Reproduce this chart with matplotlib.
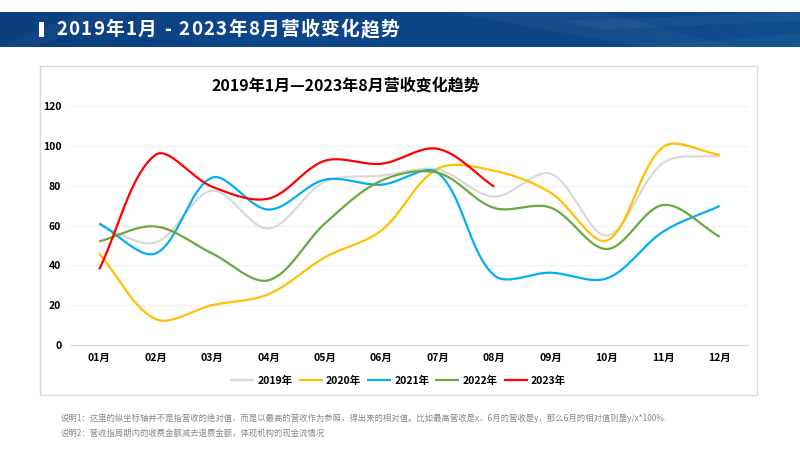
import numpy as np
import matplotlib
matplotlib.use('Agg')
import matplotlib.pyplot as plt
from matplotlib.patches import Rectangle, Polygon
from matplotlib.colors import LinearSegmentedColormap

plt.rcParams['font.family'] = ['Noto Sans CJK SC', 'DejaVu Sans']

### DATA

months = ['01月', '02月', '03月', '04月', '05月', '06月',
          '07月', '08月', '09月', '10月', '11月', '12月']
y2019 = [60, 51.5, 77.5, 58.5, 82, 85, 88, 74.5, 86, 55, 91.5, 95]
y2020 = [46, 13, 20, 25.5, 44, 57.5, 88.5, 87.5, 76.5, 52.5, 99.5, 95.5]
y2021 = [61, 46, 84, 68, 83, 80.5, 86.5, 35, 36.3, 33.5, 57, 69.8]
y2022 = [52, 59.5, 46, 32.5, 61, 82.5, 86.5, 68.8, 69, 48.2, 70.3, 54.3]
y2023 = [38, 95.5, 79.5, 73.5, 92.5, 91, 98.5, 79.5]

series = [('2019年', y2019, '#d9d9d9'),
          ('2020年', y2020, '#ffc000'),
          ('2021年', y2021, '#00b0f0'),
          ('2022年', y2022, '#6aa840'),
          ('2023年', y2023, '#ff0000')]

header_title = '2019年1月 - 2023年8月营收变化趋势'
chart_title = '2019年1月—2023年8月营收变化趋势'
note1 = '说明1：这里的纵坐标轴并不是指营收的绝对值，而是以最高的营收作为参照，得出来的相对值。比如最高营收是x，6月的营收是y，那么6月的相对值则是y/x*100%.'
note2 = '说明2：营收指周期内的收费金额减去退费金额，体现机构的现金流情况'

W, H = 800, 449
XPX = 677 / 12.0   # pixels per category
YPX = 239 / 120.0  # pixels per value unit


def smooth(xs, ys, n=40):
    # excel-like smoothed line: bezier handles scaled by neighbouring segment lengths
    p = np.column_stack([np.asarray(xs, float) * XPX, np.asarray(ys, float) * YPX])
    m = len(p)
    pts = []
    t = np.linspace(0, 1, n)[:, None]
    for i in range(m - 1):
        a, b = p[i], p[i + 1]
        pa = p[i - 1] if i > 0 else a
        pb = p[i + 2] if i + 2 < m else b
        d0 = np.linalg.norm(a - pa)
        d1 = np.linalg.norm(b - a)
        d2 = np.linalg.norm(pb - b)
        c1 = a + (b - pa) * (d1 / (d0 + d1) if d0 + d1 > 0 else 0) / 3
        c2 = b - (pb - a) * (d1 / (d1 + d2) if d1 + d2 > 0 else 0) / 3
        seg = (1 - t) ** 3 * a + 3 * (1 - t) ** 2 * t * c1 + 3 * (1 - t) * t ** 2 * c2 + t ** 3 * b
        pts.append(seg)
    pts = np.vstack(pts)
    return pts[:, 0] / XPX, pts[:, 1] / YPX


fig = plt.figure(figsize=(8, 4.49), dpi=100)
fig.patch.set_facecolor('white')

### HEADER BAND

hdr = fig.add_axes([0, 1 - 47 / H, 1, 35 / H])
grad = np.linspace(0, 1, 256)[None, :]
cm = LinearSegmentedColormap.from_list('hdr', ['#0b3f7e', '#0d468a', '#0c4688', '#0f4f90'])
hdr.imshow(grad, aspect='auto', cmap=cm, extent=[0, 1, 0, 1])
for pts, a in [([(0.0, 0.0), (0.1, 1), (0.17, 1), (0.04, 0)], 0.03),
               ([(0.56, 1), (0.75, 1), (0.92, 0), (0.8, 0)], 0.035),
               ([(0.7, 0.75), (1.0, 1.0), (1.0, 0.75), (0.75, 0.5)], 0.04),
               ([(0.8, 0.0), (1.0, 0.4), (1.0, 0.0)], 0.035)]:
    hdr.add_patch(Polygon(pts, closed=True, color='white', alpha=a, lw=0))
hdr.set_xlim(0, 1)
hdr.set_ylim(0, 1)
hdr.axis('off')
hdr.add_patch(Rectangle((39 / W, 0.3), 5 / W, 0.42, color='white', lw=0))

# header title with a little letter spacing
renderer = fig.canvas.get_renderer()
xpos = 56.0
for ch in header_title:
    tx = fig.text(xpos / W, 1 - 29.5 / H, ch, color='white', fontsize=13.5,
                  fontweight='bold', va='center', ha='left')
    w = tx.get_window_extent(renderer).width
    if ch == ' ':
        w = 5
    xpos += w + 1.3

### CHART BOX

fig.patches.append(Rectangle((40 / W, 1 - 395 / H), 717 / W, 329 / H,
                             transform=fig.transFigure, fill=False,
                             edgecolor='#d9d9d9', lw=1))

ax = fig.add_axes([71 / W, 1 - 345 / H, 677 / W, 239 / H])
x = np.arange(len(months))
for label, vals, color in series:
    sx, sy = smooth(x[:len(vals)], vals)
    ax.plot(sx, sy, color=color, lw=1.6, label=label, solid_capstyle='butt')

ax.set_xlim(-0.5, len(months) - 0.5)
ax.set_ylim(0, 120)
ax.set_yticks(range(0, 121, 20))
ax.set_xticks(x)
ax.set_xticklabels(months)
ax.yaxis.grid(True, color='#f0f0f0', lw=0.8)
ax.set_axisbelow(True)
for s in ['top', 'right', 'left']:
    ax.spines[s].set_visible(False)
ax.spines['bottom'].set_color('#d9d9d9')
ax.tick_params(axis='both', length=0, labelsize=7.5, labelcolor='#000000')
ax.tick_params(axis='y', pad=7)
ax.tick_params(axis='x', pad=6)
for lab in ax.get_xticklabels() + ax.get_yticklabels():
    lab.set_fontweight('bold')

fig.text(346 / W, 1 - 86 / H, chart_title, ha='center', va='center',
         fontsize=11.5, fontweight='bold', color='#000000')

leg = fig.legend(loc='center', bbox_to_anchor=(398 / W, 1 - 381 / H), ncol=5,
                 frameon=False, handlelength=2.3, handletextpad=0.3,
                 columnspacing=0.6, prop={'weight': 'bold', 'size': 7.5})

fig.text(61 / W, 1 - 418 / H, note1, fontsize=6.0, color='#888888', va='center')
fig.text(61 / W, 1 - 433 / H, note2, fontsize=6.0, color='#888888', va='center')

fig.savefig('out.png', dpi=100)
